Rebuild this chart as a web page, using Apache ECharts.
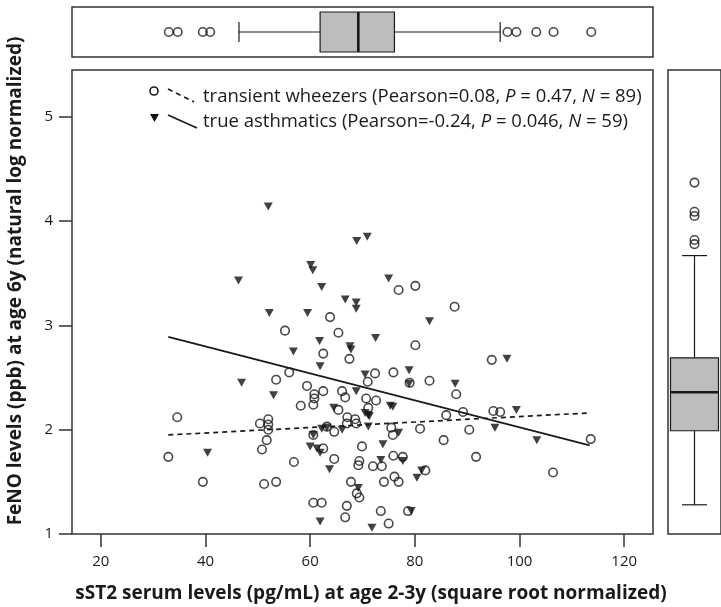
<!DOCTYPE html>
<html>
<head>
<meta charset="utf-8">
<script src="https://cdn.jsdelivr.net/npm/echarts@6/dist/echarts.min.js"></script>
<style>
  html, body { margin: 0; padding: 0; background: #fff; }
  #chart { width: 721px; height: 607px; }
</style>
</head>
<body>
<div id="chart"></div>
<script>
// x ticks / y ticks
var xTicks = [20, 40, 60, 80, 100, 120];
var yTicks = [1, 2, 3, 4, 5];

// transient wheezers [sST2, FeNO]
var wheezers = [
  [32.9, 1.74], [34.6, 2.12], [39.5, 1.50], [50.4, 2.06], [52.0, 2.10], [52.0, 2.05],
  [52.0, 2.00], [51.7, 1.90], [50.8, 1.81], [51.2, 1.48], [53.5, 1.50], [53.5, 2.48],
  [55.2, 2.95], [56.0, 2.55], [56.9, 1.69], [58.2, 2.23], [59.4, 2.42], [60.6, 2.24],
  [60.8, 2.34], [60.8, 2.30], [60.6, 1.95], [60.6, 1.30], [62.2, 1.30], [62.5, 2.73],
  [62.5, 2.37], [62.5, 1.82], [63.8, 3.08], [64.6, 1.98], [64.6, 1.72], [65.4, 2.93],
  [65.4, 2.19], [66.1, 2.37], [66.7, 2.31], [67.0, 2.06], [67.1, 2.12], [68.6, 2.10],
  [67.5, 2.68], [67.8, 1.50], [66.7, 1.16], [67.0, 1.27], [68.9, 1.39], [69.4, 1.35],
  [69.2, 1.66], [69.4, 1.70], [69.9, 1.84], [70.7, 2.30], [71.0, 2.46], [71.1, 2.21],
  [72.4, 2.54], [72.6, 2.28], [72.0, 1.65], [73.7, 1.65], [73.5, 1.22], [74.1, 1.50],
  [75.0, 1.10], [75.5, 2.02], [75.8, 1.95], [75.9, 2.55], [75.9, 1.75], [76.1, 1.55],
  [76.9, 1.50], [76.9, 3.34], [77.7, 1.74], [78.7, 1.22], [79.0, 2.45], [80.1, 3.38],
  [80.1, 2.81], [81.0, 2.01], [82.0, 1.61], [82.8, 2.47], [85.5, 1.90], [86.0, 2.14],
  [87.6, 3.18], [87.9, 2.34], [89.2, 2.17], [90.4, 2.00], [91.7, 1.74], [94.7, 2.67],
  [95.0, 2.18], [96.3, 2.17], [106.4, 1.59], [113.6, 1.91], [63.2, 2.03], [68.8, 2.06]
];

// true asthmatics [sST2, FeNO]
var asthmatics = [
  [40.4, 1.78], [46.3, 3.43], [46.9, 2.45], [52.0, 4.14], [52.2, 3.12], [53.0, 2.33],
  [56.8, 2.75], [59.5, 3.12], [60.1, 3.58], [60.5, 3.53], [60.0, 1.84], [60.6, 1.95],
  [61.3, 1.82], [61.9, 1.78], [61.8, 2.85], [61.9, 2.61], [62.2, 3.37], [61.9, 1.12],
  [62.2, 2.01], [63.2, 2.02], [63.7, 1.62], [64.5, 2.21], [66.1, 2.00], [66.7, 3.25],
  [67.6, 2.80], [67.8, 2.77], [68.8, 3.22], [68.8, 3.16], [68.9, 3.81], [70.9, 3.85],
  [68.8, 2.37], [69.2, 1.44], [70.5, 2.53], [70.5, 2.16], [71.1, 2.14], [71.3, 2.13],
  [71.1, 2.03], [71.8, 1.06], [72.5, 2.88], [73.5, 1.71], [73.9, 1.86], [75.0, 3.45],
  [75.3, 2.23], [75.8, 2.22], [76.9, 1.97], [77.7, 1.70], [78.9, 2.57], [78.9, 2.44],
  [79.3, 1.22], [80.4, 1.54], [81.3, 1.61], [82.8, 3.04], [87.7, 2.44], [95.3, 2.02],
  [97.6, 2.68], [99.4, 2.19], [103.3, 1.90]
];

// fitted lines
var fitWheezers = [[32.9, 1.95], [112.9, 2.16]];
var fitAsthmatics = [[32.9, 2.89], [113.4, 1.85]];

// box plots: [low whisker, Q1, median, Q3, high whisker]
var boxX = [46.4, 61.9, 69.2, 76.1, 96.3];
var outX = [33.0, 34.7, 39.5, 40.9, 97.7, 99.4, 103.2, 106.5, 113.7];
var boxY = [1.28, 1.99, 2.36, 2.69, 3.67];
var outY = [4.37, 4.09, 4.05, 3.82, 3.78];

var FONT = "'Open Sans', sans-serif";
var INK = '#1a1a1a';

function boxRender(horizontal, half, capHalf) {
  return function (params, api) {
    var v = [api.value(0), api.value(1), api.value(2), api.value(3), api.value(4)];
    var p = v.map(function (d) {
      return horizontal ? api.coord([d, 0.5]) : api.coord([0.5, d]);
    });
    var line = function (x1, y1, x2, y2, w) {
      return { type: 'line', shape: { x1: x1, y1: y1, x2: x2, y2: y2 },
        style: { stroke: INK, lineWidth: w || 1.2 } };
    };
    var kids = [];
    if (horizontal) {
      var cy = p[0][1];
      kids.push(line(p[0][0], cy, p[1][0], cy));
      kids.push(line(p[3][0], cy, p[4][0], cy));
      kids.push(line(p[0][0], cy - capHalf, p[0][0], cy + capHalf));
      kids.push(line(p[4][0], cy - capHalf, p[4][0], cy + capHalf));
      kids.push({ type: 'rect', shape: { x: p[1][0], y: cy - half, width: p[3][0] - p[1][0], height: half * 2 },
        style: { fill: '#bdbdbd', stroke: INK, lineWidth: 1.2 } });
      kids.push(line(p[2][0], cy - half, p[2][0], cy + half, 2.6));
    } else {
      var cx = p[0][0];
      kids.push(line(cx, p[0][1], cx, p[1][1]));
      kids.push(line(cx, p[3][1], cx, p[4][1]));
      kids.push(line(cx - capHalf, p[0][1], cx + capHalf, p[0][1]));
      kids.push(line(cx - capHalf, p[4][1], cx + capHalf, p[4][1]));
      kids.push({ type: 'rect', shape: { x: cx - half, y: p[3][1], width: half * 2, height: p[1][1] - p[3][1] },
        style: { fill: '#bdbdbd', stroke: INK, lineWidth: 1.2 } });
      kids.push(line(cx - half, p[2][1], cx + half, p[2][1], 2.6));
    }
    return { type: 'group', children: kids };
  };
}

var chart = echarts.init(document.getElementById('chart'));

var italic = { i: { fontStyle: 'italic', fontSize: 18.5, fontFamily: FONT, fill: INK } };

var option = {
  animation: false,
  backgroundColor: '#fff',
  textStyle: { fontFamily: FONT, color: INK },
  grid: [
    { left: 72, top: 70, width: 581, height: 464, show: true, borderColor: '#333', borderWidth: 1.5 },
    { left: 72, top: 7, width: 581, height: 50, show: true, borderColor: '#333', borderWidth: 1.5 },
    { left: 668, top: 70, width: 64, height: 464, show: true, borderColor: '#333', borderWidth: 1.5 }
  ],
  xAxis: [
    {
      gridIndex: 0, type: 'value', min: 14.5, max: 125.5,
      axisLine: { show: false },
      axisTick: { show: true, length: 13, inside: false, customValues: xTicks,
        lineStyle: { color: '#333', width: 1.5 } },
      axisLabel: { customValues: xTicks, margin: 20, fontSize: 15, color: INK, fontFamily: FONT },
      splitLine: { show: false }
    },
    { gridIndex: 1, type: 'value', min: 14.5, max: 125.5, show: false },
    { gridIndex: 2, type: 'value', min: 0, max: 1, show: false }
  ],
  yAxis: [
    {
      gridIndex: 0, type: 'value', min: 1, max: 5.45,
      axisLine: { show: false },
      axisTick: { show: true, length: 13, inside: false, customValues: yTicks,
        lineStyle: { color: '#333', width: 1.5 } },
      axisLabel: { customValues: yTicks, margin: 19, fontSize: 15, color: INK, fontFamily: FONT },
      splitLine: { show: false }
    },
    { gridIndex: 1, type: 'value', min: 0, max: 1, show: false },
    { gridIndex: 2, type: 'value', min: 1, max: 5.45, show: false }
  ],
  series: [
    {
      name: 'transient wheezers', type: 'scatter', xAxisIndex: 0, yAxisIndex: 0,
      data: wheezers, symbol: 'circle', symbolSize: 8.5,
      itemStyle: { color: 'rgba(0,0,0,0)', borderColor: INK, borderWidth: 1.6 }
    },
    {
      name: 'true asthmatics', type: 'scatter', xAxisIndex: 0, yAxisIndex: 0,
      data: asthmatics, symbol: 'triangle', symbolRotate: 180, symbolSize: [9, 8],
      itemStyle: { color: '#111' }
    },
    {
      type: 'line', xAxisIndex: 0, yAxisIndex: 0, data: fitWheezers, symbol: 'none',
      lineStyle: { color: INK, width: 1.7, type: [5, 4] }
    },
    {
      type: 'line', xAxisIndex: 0, yAxisIndex: 0, data: fitAsthmatics, symbol: 'none',
      lineStyle: { color: INK, width: 1.7 }
    },
    {
      type: 'custom', xAxisIndex: 1, yAxisIndex: 1, data: [boxX],
      renderItem: boxRender(true, 20, 10)
    },
    {
      type: 'scatter', xAxisIndex: 1, yAxisIndex: 1, symbol: 'circle', symbolSize: 8.5,
      data: outX.map(function (v) { return [v, 0.5]; }),
      itemStyle: { color: 'rgba(0,0,0,0)', borderColor: INK, borderWidth: 1.6 }
    },
    {
      type: 'custom', xAxisIndex: 2, yAxisIndex: 2, data: [boxY],
      renderItem: boxRender(false, 24, 12.5)
    },
    {
      type: 'scatter', xAxisIndex: 2, yAxisIndex: 2, symbol: 'circle', symbolSize: 8.5,
      data: outY.map(function (v) { return [0.5, v]; }),
      itemStyle: { color: 'rgba(0,0,0,0)', borderColor: INK, borderWidth: 1.6 }
    }
  ],
  graphic: [
    // legend
    { type: 'circle', shape: { cx: 154, cy: 91, r: 4 }, style: { fill: 'none', stroke: INK, lineWidth: 1.6 } },
    { type: 'line', shape: { x1: 168, y1: 89, x2: 194, y2: 102 },
      style: { stroke: INK, lineWidth: 1.7, lineDash: [5, 4] } },
    { type: 'polygon', shape: { points: [[150, 114], [159, 114], [154.5, 122]] }, style: { fill: '#111' } },
    { type: 'line', shape: { x1: 168, y1: 115, x2: 197, y2: 128 }, style: { stroke: INK, lineWidth: 1.7 } },
    { type: 'text', x: 203, y: 97, style: {
        text: 'transient wheezers (Pearson=0.08, {i|P} = 0.47, {i|N} = 89)',
        font: '18.5px ' + FONT, fill: INK, verticalAlign: 'middle', rich: italic } },
    { type: 'text', x: 203, y: 122, style: {
        text: 'true asthmatics (Pearson=-0.24, {i|P} = 0.046, {i|N} = 59)',
        font: '18.5px ' + FONT, fill: INK, verticalAlign: 'middle', rich: italic } },
    // axis titles
    { type: 'text', x: 371, y: 594, style: {
        text: 'sST2 serum levels (pg/mL) at age 2-3y (square root normalized)',
        font: 'bold 19px ' + FONT, fill: INK, align: 'center', verticalAlign: 'middle' } },
    { type: 'text', x: 16, y: 281, rotation: Math.PI / 2, style: {
        text: 'FeNO levels (ppb) at age 6y (natural log normalized)',
        font: 'bold 19px ' + FONT, fill: INK, align: 'center', verticalAlign: 'middle' } }
  ]
};

chart.setOption(option);
</script>
</body>
</html>
